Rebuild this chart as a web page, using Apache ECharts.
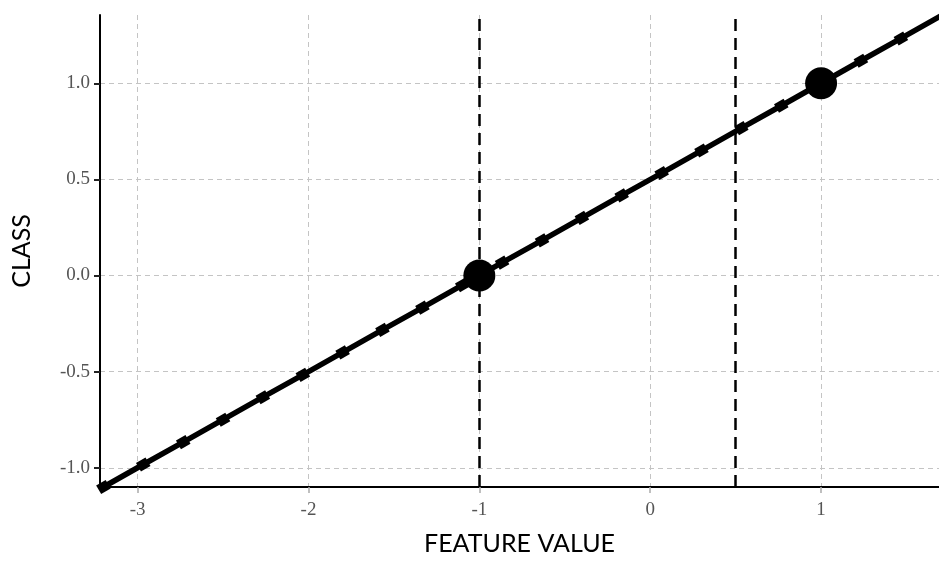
<!DOCTYPE html>
<html>
<head>
<meta charset="utf-8">
<script src="https://cdn.jsdelivr.net/npm/echarts@6/dist/echarts.min.js"></script>
<style>
  html, body { margin: 0; padding: 0; background: #fff; }
  #chart { width: 939px; height: 561px; }
</style>
</head>
<body>
<div id="chart"></div>
<script>
// sampled points along the fitted line
const featureValues = [-3.2, -2.967, -2.733, -2.5, -2.267, -2.033, -1.8, -1.567, -1.333, -1.1,
  -0.867, -0.633, -0.4, -0.167, 0.067, 0.3, 0.533, 0.767, 1.0, 1.233, 1.467, 1.7]
const classValues = [-1.1, -0.983, -0.867, -0.75, -0.633, -0.517, -0.4, -0.283, -0.167, -0.05,
  0.067, 0.183, 0.3, 0.417, 0.533, 0.65, 0.767, 0.883, 1.0, 1.117, 1.233, 1.35]
// the two observations
const obsX = [-1, 1]
const obsY = [0, 1]
// dashed reference lines
const vlines = [-1, 0.5]
const xTicks = [-3, -2, -1, 0, 1]
const yTicks = [-1, -0.5, 0, 0.5, 1]

let chart = echarts.init(document.getElementById('chart'))

let gridLine = { show: true, lineStyle: { color: '#c4c4c4', width: 1, type: [5, 4] } }
let tickFont = { fontFamily: 'Liberation Serif', fontSize: 19, color: '#555' }
let titleFont = { fontFamily: 'Lato', fontSize: 25, color: '#000' }

let option = {
  animation: false,
  grid: { left: 100, right: 0, top: 15, bottom: 69 },
  xAxis: {
    type: 'value',
    min: -3.22,
    max: 1.69,
    name: 'FEATURE VALUE',
    nameLocation: 'middle',
    nameGap: 44,
    nameTextStyle: titleFont,
    axisLine: { onZero: false, lineStyle: { color: '#000', width: 2 } },
    axisTick: { show: true, customValues: xTicks, length: 6, lineStyle: { color: '#aaa', width: 1.5 } },
    axisLabel: { customValues: xTicks, margin: 14, ...tickFont },
    splitLine: gridLine
  },
  yAxis: {
    type: 'value',
    min: -1.1,
    max: 1.355,
    name: 'CLASS',
    nameLocation: 'middle',
    nameGap: 66,
    nameTextStyle: titleFont,
    axisLine: { show: true, onZero: false, lineStyle: { color: '#000', width: 2 } },
    axisTick: { show: true, customValues: yTicks, length: 6, lineStyle: { color: '#222', width: 2 } },
    axisLabel: { customValues: yTicks, margin: 10, ...tickFont, formatter: v => v.toFixed(1) },
    splitLine: gridLine
  },
  series: [
    {
      type: 'line',
      data: featureValues.map((x, i) => [x, classValues[i]]),
      lineStyle: { color: '#000', width: 5.5 },
      itemStyle: { color: '#000' },
      symbol: 'rect',
      symbolSize: [11, 10],
      symbolRotate: 30,
      showSymbol: true,
      z: 3,
      markLine: {
        silent: true,
        symbol: 'none',
        label: { show: false },
        lineStyle: { color: '#000', width: 2.5, type: [12, 7] },
        data: vlines.map(v => ({ xAxis: v }))
      }
    },
    {
      type: 'scatter',
      data: obsX.map((x, i) => [x, obsY[i]]),
      symbol: 'circle',
      symbolSize: 32,
      itemStyle: { color: '#000', opacity: 1 },
      z: 5
    }
  ]
}
chart.setOption(option)
</script>
</body>
</html>
